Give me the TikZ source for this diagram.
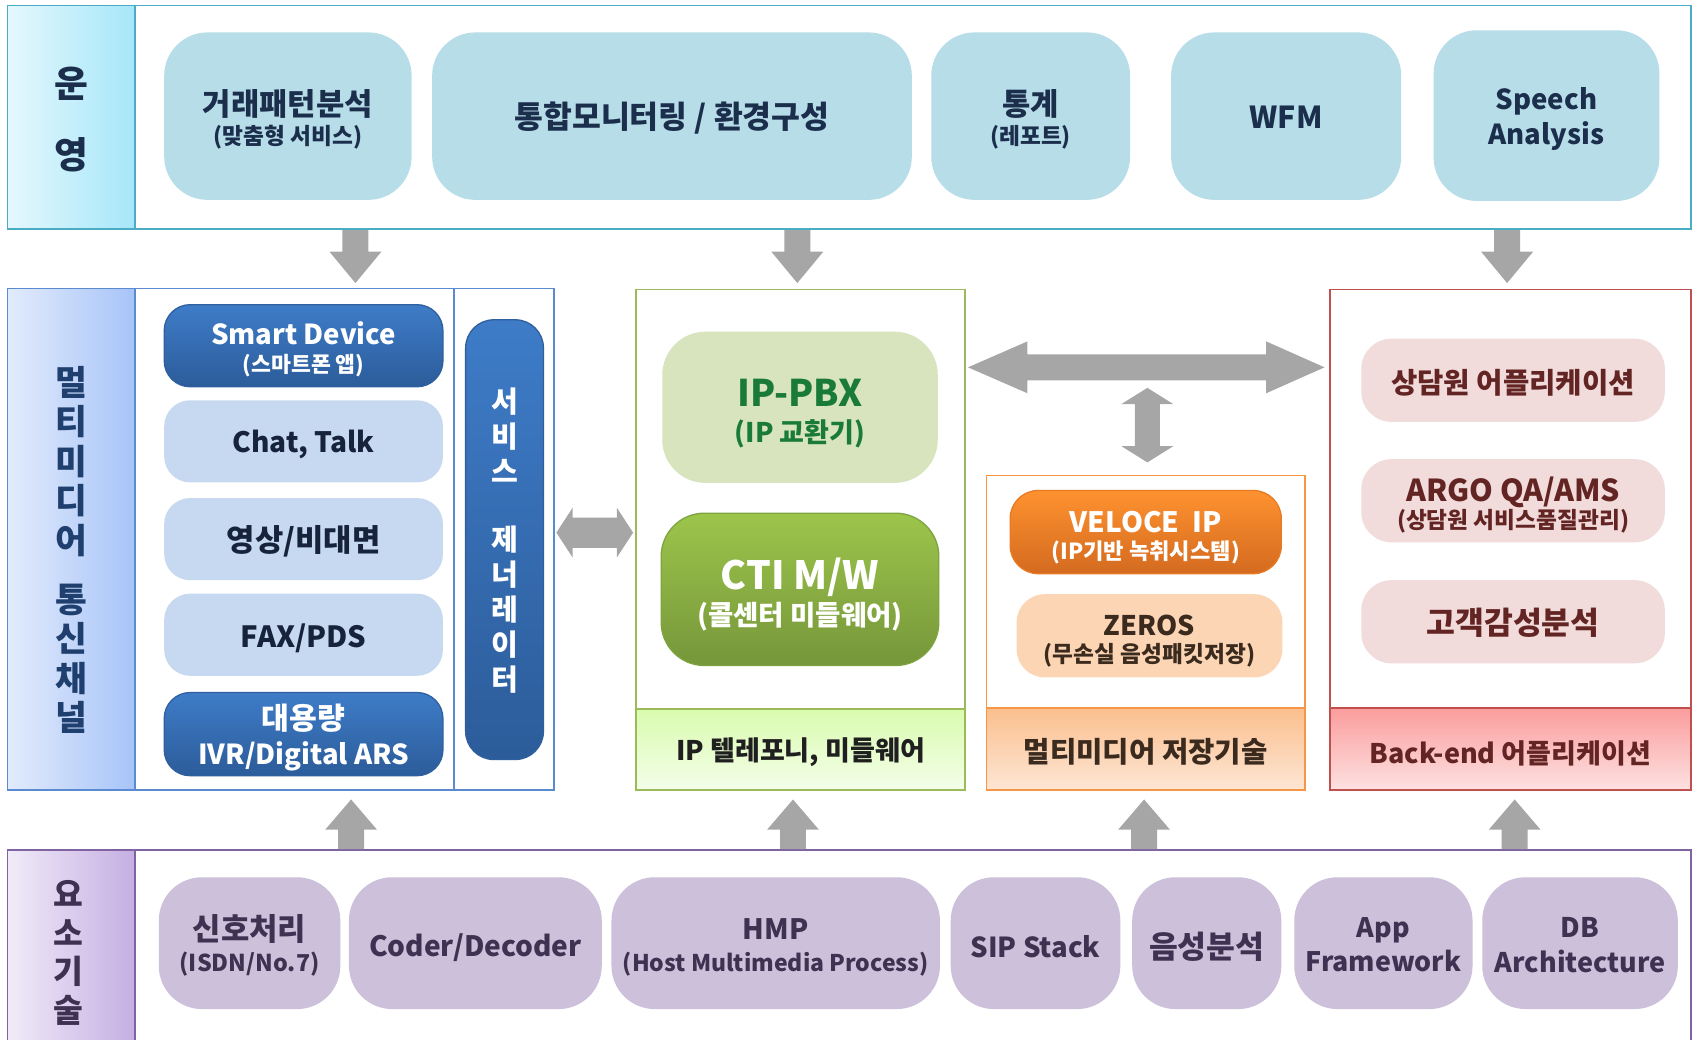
\documentclass[tikz,border=0pt]{standalone}
\usepackage{fontspec}
\setmainfont{Noto Sans CJK KR}
\newcommand{\myfs}[2]{\fontsize{#1}{#2}\selectfont}
\definecolor{topline}{HTML}{4BACC6}
\definecolor{topfill}{HTML}{B7DDE8}
\definecolor{toptext}{HTML}{1B2F4D}
\definecolor{toplblL}{HTML}{E4F8FD}
\definecolor{toplblR}{HTML}{A6E6F9}
\definecolor{bluline}{HTML}{5A8AD0}
\definecolor{bluetext}{HTML}{1F3F6E}
\definecolor{blulblL}{HTML}{E2EBFC}
\definecolor{blulblR}{HTML}{A7C4F8}
\definecolor{dkbtop}{HTML}{3E7CC8}
\definecolor{dkbbot}{HTML}{2C5C9A}
\definecolor{dkbline}{HTML}{2F5F9E}
\definecolor{ltblue}{HTML}{C6D9F0}
\definecolor{lttext}{HTML}{17233A}
\definecolor{grnline}{HTML}{9BBB59}
\definecolor{pbxfill}{HTML}{D7E4BD}
\definecolor{pbxtext}{HTML}{1A7A3A}
\definecolor{ctitop}{HTML}{9CC54B}
\definecolor{ctibot}{HTML}{76963A}
\definecolor{ctiline}{HTML}{7EA33F}
\definecolor{grnbtop}{HTML}{D9FCAE}
\definecolor{grnbbot}{HTML}{F4FDEA}
\definecolor{orgline}{HTML}{F79646}
\definecolor{veltop}{HTML}{FE9230}
\definecolor{velbot}{HTML}{D46A1F}
\definecolor{velline}{HTML}{E97A24}
\definecolor{zerfill}{HTML}{FCD5B4}
\definecolor{orgbtop}{HTML}{FBBF8E}
\definecolor{orgbbot}{HTML}{FDE6D4}
\definecolor{orgtext}{HTML}{3B2A1E}
\definecolor{redline}{HTML}{C0504D}
\definecolor{redfill}{HTML}{F2DCDB}
\definecolor{redtext}{HTML}{632523}
\definecolor{redbtop}{HTML}{FB9C9C}
\definecolor{redbbot}{HTML}{FDE1E1}
\definecolor{purline}{HTML}{8064A2}
\definecolor{purfill}{HTML}{CCC0DA}
\definecolor{purtext}{HTML}{3F3151}
\definecolor{purlblL}{HTML}{F0EBF8}
\definecolor{purlblR}{HTML}{C5AFE3}
\definecolor{arrowgray}{HTML}{A6A6A6}
\newcommand{\DownArr}[1]{\fill[arrowgray] (#1) ++(-12,0) -- ++(0,20) -- ++(-12,0) -- ++(24,29) -- ++(24,-29) -- ++(-12,0) -- ++(0,-20) -- cycle;}
\newcommand{\UpArr}[1]{\fill[arrowgray] (#1) ++(-12,0) -- ++(0,-18) -- ++(-12,0) -- ++(24,-28) -- ++(24,28) -- ++(-12,0) -- ++(0,18) -- cycle;}
% text of a box, placed on the box centre (slightly lowered as in the reference)
\newcommand{\BoxText}[4]{\node[base, #2] (#1-t) at ([yshift=-#3]#1.center) {#4};}
\tikzset{
  base/.style={inner sep=0, outer sep=0, align=center},
  sect/.style={base, draw, line width=1.6, anchor=north west, fill=white},
  lbl/.style={base, draw, line width=1.6, anchor=north west},
  tbox/.style={base, fill=topfill, rounded corners=40},
  dkbox/.style={base, draw=dkbline, line width=1.2, top color=dkbtop, bottom color=dkbbot, rounded corners=24, minimum width=258, minimum height=76},
  ltbox/.style={base, fill=ltblue, rounded corners=24, minimum width=258, minimum height=76},
  rbox/.style={base, fill=redfill, rounded corners=28, minimum width=281, minimum height=77},
  pbox/.style={base, fill=purfill, rounded corners=40, minimum height=122},
}
\begin{document}
\begin{tikzpicture}[x=1pt,y=-1pt]
\useasboundingbox (0,0) rectangle (1568,962);
\clip (0,0) rectangle (1568,962);
% ===== top band =====
\node[sect, draw=topline, minimum width=1558, minimum height=207] (opband) at (7,5) {};
\node[lbl, draw=topline, left color=toplblL, right color=toplblR, minimum width=118, minimum height=207] (oplbl) at (7,5) {};
\BoxText{oplbl}{text=toptext, font=\bfseries\myfs{34}{66}}{2}{운\\영}
\node[tbox, minimum width=229, minimum height=155] (t1) at (266.5,107.5) {};
\BoxText{t1}{text=toptext, font=\bfseries\myfs{28.5}{27}}{3}{거래패턴분석\\{\myfs{21}{22}(맞춤형 서비스)}}
\node[tbox, minimum width=444, minimum height=155] (t2) at (622,107.5) {};
\BoxText{t2}{text=toptext, font=\bfseries\myfs{29}{30}}{2}{통합모니터링 / 환경구성}
\node[tbox, minimum width=184, minimum height=155] (t3) at (954,107.5) {};
\BoxText{t3}{text=toptext, font=\bfseries\myfs{28.5}{27}}{3}{통계\\{\myfs{21}{22}(레포트)}}
\node[tbox, minimum width=213, minimum height=155] (t4) at (1190.5,107.5) {};
\BoxText{t4}{text=toptext, font=\bfseries\myfs{28}{30}}{1}{WFM}
\node[tbox, minimum width=209, minimum height=158] (t5) at (1431.5,107) {};
\BoxText{t5}{text=toptext, font=\bfseries\myfs{25.5}{32}}{3}{Speech\\Analysis}
% ===== multimedia section =====
\node[sect, draw=bluline, minimum width=506, minimum height=464] (mmsec) at (7,267) {};
\node[lbl, draw=bluline, left color=blulblL, right color=blulblR, minimum width=118, minimum height=464] (mmlbl) at (7,267) {};
\BoxText{mmlbl}{text=bluetext, font=\bfseries\myfs{32}{36.5}}{10}{멀\\티\\미\\디\\어\\[18pt]통\\신\\채\\널}
\draw[bluline, line width=1.6] (420,267) -- (420,731);
\node[dkbox] (sd) at (281,320) {};
\BoxText{sd}{text=white, font=\bfseries\myfs{25.5}{26}}{3}{Smart Device\\{\myfs{20}{20}(스마트폰 앱)}}
\node[ltbox] (ct) at (281,408.5) {};
\BoxText{ct}{text=lttext, font=\bfseries\myfs{26}{30}}{3}{Chat, Talk}
\node[ltbox] (ys) at (281,499) {};
\BoxText{ys}{text=lttext, font=\bfseries\myfs{28.5}{30}}{2}{영상/비대면}
\node[ltbox] (fx) at (281,587.5) {};
\BoxText{fx}{text=lttext, font=\bfseries\myfs{27}{30}}{3}{FAX/PDS}
\node[dkbox, minimum height=77] (ivr) at (281,679.5) {};
\BoxText{ivr}{text=white, font=\bfseries\myfs{25.5}{32}}{3}{{\myfs{28}{32}대용량}\\IVR/Digital ARS}
\node[dkbox, minimum width=72, minimum height=407, rounded corners=26] (sg) at (467,499.5) {};
\BoxText{sg}{text=white, font=\bfseries\myfs{27}{32.5}}{1}{서\\비\\스\\[30pt]제\\너\\레\\이\\터}
% ===== IP section =====
\node[sect, draw=grnline, minimum width=304, minimum height=463] (ipsec) at (589,268) {};
\node[lbl, draw=grnline, top color=grnbtop, bottom color=grnbbot, minimum width=304, minimum height=75] (ipband) at (589,656) {};
\BoxText{ipband}{text=black!88, font=\bfseries\myfs{25}{26}}{3}{IP 텔레포니, 미들웨어}
\node[base, fill=pbxfill, rounded corners=40, minimum width=255, minimum height=140] (pbx) at (740.5,377) {};
\BoxText{pbx}{text=pbxtext, font=\bfseries\myfs{34}{33}}{6}{IP-PBX\\{\myfs{25}{26}(IP 교환기)}}
\node[base, draw=ctiline, line width=1.2, top color=ctitop, bottom color=ctibot, rounded corners=40, minimum width=257, minimum height=141] (cti) at (740.5,545.5) {};
\BoxText{cti}{text=white, font=\bfseries\myfs{36}{33}}{5}{CTI M/W\\{\myfs{25.5}{26}(콜센터 미들웨어)}}
% ===== storage section =====
\node[sect, draw=orgline, minimum width=295, minimum height=291] (stsec) at (913,440) {};
\node[lbl, draw=orgline, top color=orgbtop, bottom color=orgbbot, minimum width=295, minimum height=76] (stband) at (913,655) {};
\BoxText{stband}{text=orgtext, font=\bfseries\myfs{26.5}{28}}{3}{멀티미디어 저장기술}
\node[base, draw=velline, line width=1.2, top color=veltop, bottom color=velbot, rounded corners=26, minimum width=251, minimum height=77] (vel) at (1060.5,492.5) {};
\BoxText{vel}{text=white, font=\bfseries\myfs{26}{25}}{5}{VELOCE\ \ IP\\{\myfs{20.5}{20}(IP기반 녹취시스템)}}
\node[base, fill=zerfill, rounded corners=26, minimum width=246, minimum height=77] (zer) at (1064,588.5) {};
\BoxText{zer}{text=orgtext, font=\bfseries\myfs{25}{25}}{5}{ZEROS\\{\myfs{21}{20}(무손실 음성패킷저장)}}
% ===== back-end section =====
\node[sect, draw=redline, minimum width=334, minimum height=463] (besec) at (1231,268) {};
\node[lbl, draw=redline, top color=redbtop, bottom color=redbbot, minimum width=334, minimum height=76] (beband) at (1231,655) {};
\BoxText{beband}{text=redtext, font=\bfseries\myfs{25}{26}}{4}{Back-end 어플리케이션}
\node[rbox] (b1) at (1400.5,352) {};
\BoxText{b1}{text=redtext, font=\bfseries\myfs{26.5}{28}}{2}{상담원 어플리케이션}
\node[rbox] (b2) at (1400.5,463.5) {};
\BoxText{b2}{text=redtext, font=\bfseries\myfs{28}{25.5}}{4}{ARGO QA/AMS\\{\myfs{21}{20}(상담원 서비스품질관리)}}
\node[rbox] (b3) at (1400.5,575.5) {};
\BoxText{b3}{text=redtext, font=\bfseries\myfs{29}{30}}{1}{고객감성분석}
% ===== bottom band =====
\node[sect, draw=purline, minimum width=1558, minimum height=230] (elband) at (7,787) {};
\node[lbl, draw=purline, left color=purlblL, right color=purlblR, minimum width=118, minimum height=230] (ellbl) at (7,787) {};
\node[base, text=purtext, font=\bfseries\myfs{30}{36}] (eltxt) at (63,882) {요\\소\\기\\술};
\node[pbox, minimum width=168] (e1) at (231,873) {};
\BoxText{e1}{text=purtext, font=\bfseries\myfs{28.5}{29}}{2}{신호처리\\{\myfs{21.5}{24}(ISDN/No.7)}}
\node[pbox, minimum width=234] (e2) at (440,873) {};
\BoxText{e2}{text=purtext, font=\bfseries\myfs{26}{30}}{4}{Coder/Decoder}
\node[pbox, minimum width=304] (e3) at (718,873) {};
\BoxText{e3}{text=purtext, font=\bfseries\myfs{26}{29}}{4}{HMP\\{\myfs{21.3}{24}(Host Multimedia Process)}}
\node[pbox, minimum width=157] (e4) at (958.5,873) {};
\BoxText{e4}{text=purtext, font=\bfseries\myfs{25.5}{30}}{3}{SIP Stack}
\node[pbox, minimum width=138] (e5) at (1117,873) {};
\BoxText{e5}{text=purtext, font=\bfseries\myfs{29}{30}}{3}{음성분석}
\node[pbox, minimum width=165] (e6) at (1280.5,873) {};
\BoxText{e6}{text=purtext, font=\bfseries\myfs{24.8}{32}}{1.5}{App\\Framework}
\node[pbox, minimum width=181] (e7) at (1462.5,873) {};
\BoxText{e7}{text=purtext, font=\bfseries\myfs{25}{32.5}}{2}{DB\\Architecture}
% ===== arrows =====
\coordinate (d1) at (329,213);
\coordinate (d2) at (738,213);
\coordinate (d3) at (1395,213);
\DownArr{d1}\DownArr{d2}\DownArr{d3}
\coordinate (u1) at (325,786);
\coordinate (u2) at (734,786);
\coordinate (u3) at (1059,786);
\coordinate (u4) at (1402,786);
\UpArr{u1}\UpArr{u2}\UpArr{u3}\UpArr{u4}
% left double arrow between multimedia and IP sections
\coordinate (la) at (515,493);
\coordinate (lb) at (586,493);
\fill[arrowgray] (la) -- ++(15,-23) -- ++(0,9) -- ++(41,0) -- ++(0,-9) -- (lb) -- ++(-15,23) -- ++(0,-9) -- ++(-41,0) -- ++(0,9) -- cycle;
% big horizontal double arrow between IP and back-end
\coordinate (ha) at (896,340);
\coordinate (hb) at (1226,340);
\fill[arrowgray] (ha) -- ++(55,-24) -- ++(0,12) -- ++(221,0) -- ++(0,-12) -- (hb) -- ++(-54,24) -- ++(0,-12) -- ++(-221,0) -- ++(0,12) -- cycle;
% vertical double arrow to storage
\coordinate (va) at (1062,359);
\coordinate (vb) at (1062,428);
\fill[arrowgray] (va) -- ++(24,15) -- ++(-12.5,0) -- ++(0,39) -- ++(12.5,0) -- (vb) -- ++(-24,-15) -- ++(12.5,0) -- ++(0,-39) -- ++(-12.5,0) -- cycle;
\end{tikzpicture}
\end{document}
